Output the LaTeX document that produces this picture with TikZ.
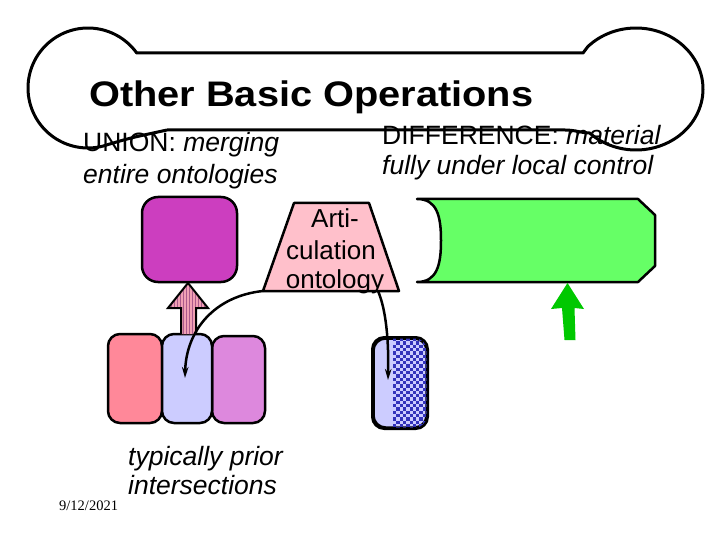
\documentclass[tikz,border=0pt]{standalone}
\usepackage{fontspec}
\usepackage{graphicx}
\setmainfont{Liberation Sans}
\newfontfamily\datefont{Liberation Serif}
\usetikzlibrary{arrows.meta}
\definecolor{magbox}{RGB}{204,62,191}
\definecolor{pinkbox}{RGB}{255,136,153}
\definecolor{bluebox}{RGB}{204,204,255}
\definecolor{orchidbox}{RGB}{221,136,221}
\definecolor{artpink}{RGB}{255,192,203}
\definecolor{greenbox}{RGB}{102,255,102}
\definecolor{greenarrow}{RGB}{0,200,0}
\definecolor{checkblue}{RGB}{51,51,187}
\definecolor{stripefill}{RGB}{240,160,180}
\definecolor{stripeline}{RGB}{170,90,140}
\begin{document}
\begin{tikzpicture}[x=1pt,y=-1pt,
  outl/.style={draw=black,line width=2.5pt,line join=round},
  rbox/.style={outl,rounded corners=12pt,inner sep=0pt},
  txt/.style={inner sep=0pt,anchor=base west,font=\fontsize{26.5}{31}\selectfont},
  arttxt/.style={inner sep=0pt,anchor=base,font=\fontsize{26}{30}\selectfont},
  conn/.style={line width=2.5pt,-{Stealth[length=11pt,width=6.5pt]}}]
\useasboundingbox (0,0) rectangle (720,540);
% banner
\draw[line width=3pt,line join=round] (167,130) -- (565,130)
  .. controls (575,130) and (582,133) .. (589.5,133)
  -- plot[domain=134:-136,samples=90] ({636+67*cos(\x)},{89+61*sin(\x)})
  -- (583,53) -- (137,53)
  -- plot[domain=-36:-290,samples=90] ({88+60*cos(\x)},{88+60*sin(\x)})
  .. controls (130,138) .. (167,130);
\node[inner sep=0pt,anchor=base west,font=\fontsize{35.5}{40}\selectfont\bfseries] (title) at (89,107) {\scalebox{1.12}[1]{Other Basic Operations}};
\node[txt] (unionA) at (83,151.7) {UNION: \textit{merging}};
\node[txt] (unionB) at (83,183.3) {\textit{entire ontologies}};
\node[txt] (diffA) at (382,145) {DIFFERENCE: \textit{material}};
\node[txt] (diffB) at (382,175) {\textit{fully under local control}};
% union boxes
\node[rbox,fill=magbox,minimum width=95pt,minimum height=85pt,rounded corners=16pt] (union) at (189.5,239.5) {};
\node[rbox,fill=pinkbox,minimum width=54pt,minimum height=89pt] (ontA) at (135,378.5) {};
\node[rbox,fill=orchidbox,minimum width=53pt,minimum height=87pt] (ontC) at (238.5,379.5) {};
\node[rbox,fill=bluebox,minimum width=50pt,minimum height=89pt] (ontB) at (187,378.5) {};
% striped arrow
\begin{scope}
\clip (188,283) -- (208,308) -- (196,308) -- (196,334) -- (181,334) -- (181,308) -- (168,308) -- cycle;
\fill[stripefill] (165,280) rectangle (211,336);
\foreach \s in {168,171,...,208} \draw[stripeline,line width=1pt] (\s,280) -- (\s,336);
\end{scope}
\draw[line width=2pt,line join=miter] (181,334) -- (181,308) -- (168,308) -- (188,283) -- (208,308) -- (196,308) -- (196,334);
% articulation
\coordinate (artTL) at (294,203);
\coordinate (artTR) at (369,203);
\coordinate (artBR) at (399,291);
\coordinate (artBL) at (263,291);
\coordinate (artB2) at (378,291);
\draw[outl,fill=artpink] (artTL) -- (artTR) -- (artBR) -- (artBL) -- cycle;
\node[arttxt] (art1) at (335,228) {Arti-};
\node[arttxt] (art2) at (331,259) {culation};
\node[arttxt] (art3) at (335,288) {ontology};
% checkered box
\node[rbox,fill=bluebox,minimum width=53pt,minimum height=89pt] (chk) at (400,383) {};
\begin{scope}
\clip[rounded corners=12pt] (chk.south west) rectangle (chk.north east);
\foreach \i in {0,...,10} {
  \pgfmathtruncatemacro\off{mod(\i,2)}
  \foreach \j in {0,...,14} {
    \fill[checkblue] ({393+\i*3.3},{338+(2*\j+\off)*3.3}) rectangle +(3.3,3.3);
  }
}
\end{scope}
\draw[outl,rounded corners=12pt] (chk.south west) rectangle (chk.north east);
% green
\draw[outl,fill=greenbox] (417,199) -- (638,199) -- (655,215) -- (655,266) -- (638,282) -- (417,282)
  .. controls (437,282) and (441,265) .. (441,240.5)
  .. controls (441,216) and (437,199) .. cycle;
\fill[greenarrow] (567.5,283) -- (584,309) -- (574.5,308) -- (575.5,340) -- (564.5,340) -- (562,308) -- (551,309) -- cycle;
% connectors
\coordinate (ontBin) at (185,378);
\coordinate (chkin) at (388,380);
\draw[conn] (artBL) .. controls (215,296) and (186,330) .. (ontBin);
\draw[conn] (artB2) .. controls (384,305) and (389,330) .. (chkin);
% bottom text
\node[txt] (prior1) at (128,465) {\textit{typically prior}};
\node[txt] (prior2) at (128,494) {\textit{intersections}};
\node[inner sep=0pt,anchor=base west,font=\datefont\fontsize{14.5}{17}\selectfont] (date) at (59,510) {9/12/2021};
\end{tikzpicture}
\end{document}
